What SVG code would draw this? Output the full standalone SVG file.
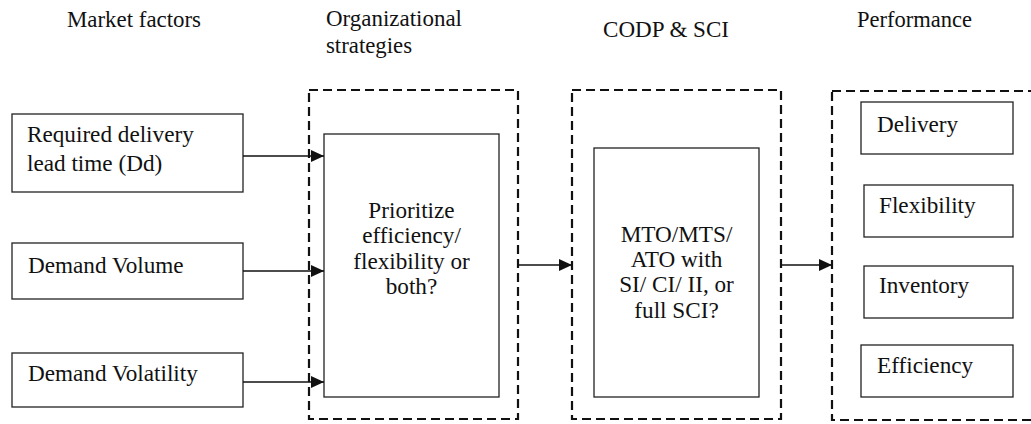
<svg xmlns="http://www.w3.org/2000/svg" width="1031" height="424" viewBox="0 0 1031 424">
<style>
text{fill:#111}
.h{font-size:23.5px}
.t{font-size:23.2px}
.c{text-anchor:middle}
.box{fill:#fff;stroke:#222;stroke-width:1.3}
.dash{fill:none;stroke:#111;stroke-width:2.2;stroke-dasharray:9 5}
.ln{fill:none;stroke:#111;stroke-width:1.3;marker-end:url(#ah)}
</style>
<defs>
<marker id="ah" markerWidth="13" markerHeight="12" refX="13" refY="6" orient="auto" markerUnits="userSpaceOnUse">
<path d="M0,0 L13,6 L0,12 Z" fill="#111"/>
</marker>
</defs>
<rect width="1031" height="424" fill="#fff"/>
<g font-family="'Liberation Serif', 'Times New Roman', Tinos, 'DejaVu Serif', serif">
<g id="headers">
<text class="h" x="67" y="27" textLength="134" lengthAdjust="spacingAndGlyphs">Market factors</text>
<text class="h" x="326" y="26" textLength="136" lengthAdjust="spacingAndGlyphs">Organizational</text>
<text class="h" x="326" y="53" textLength="86" lengthAdjust="spacingAndGlyphs">strategies</text>
<text class="h" x="603" y="37" textLength="126" lengthAdjust="spacingAndGlyphs">CODP &amp; SCI</text>
<text class="h" x="857" y="27" textLength="115" lengthAdjust="spacingAndGlyphs">Performance</text>
</g>
<g id="group-strategies"><rect class="dash" x="309" y="90" width="209" height="329"/></g>
<g id="group-codp"><rect class="dash" x="572" y="90" width="209" height="329"/></g>
<g id="group-performance"><rect class="dash" x="832" y="91" width="250" height="329"/></g>
<g id="n-lead"><rect class="box" x="12" y="114" width="231" height="78"/>
<text class="t" x="27" y="142">Required delivery</text>
<text class="t" x="27" y="171">lead time (Dd)</text></g>
<g id="n-volume"><rect class="box" x="12" y="243" width="231" height="56"/>
<text class="t" x="28" y="273">Demand Volume</text></g>
<g id="n-volatility"><rect class="box" x="12" y="353" width="231" height="54"/>
<text class="t" x="28" y="381">Demand Volatility</text></g>
<g id="n-prioritize"><rect class="box" x="324" y="134" width="175" height="263"/>
<text class="t c" x="411.5" y="218">Prioritize</text>
<text class="t c" x="411.5" y="243">efficiency/</text>
<text class="t c" x="411.5" y="269">flexibility or</text>
<text class="t c" x="411.5" y="294">both?</text></g>
<g id="n-codp"><rect class="box" x="594" y="148" width="165" height="249"/>
<text class="t c" x="676.5" y="242">MTO/MTS/</text>
<text class="t c" x="676.5" y="267">ATO with</text>
<text class="t c" x="676.5" y="292">SI/ CI/ II, or</text>
<text class="t c" x="676.5" y="318">full SCI?</text></g>
<g id="n-delivery"><rect class="box" x="861" y="102" width="152" height="52"/>
<text class="t" x="877" y="132">Delivery</text></g>
<g id="n-flexibility"><rect class="box" x="864" y="185" width="149" height="52"/>
<text class="t" x="879" y="213">Flexibility</text></g>
<g id="n-inventory"><rect class="box" x="864" y="266" width="149" height="52"/>
<text class="t" x="879" y="293">Inventory</text></g>
<g id="n-efficiency"><rect class="box" x="861" y="345" width="152" height="52"/>
<text class="t" x="877" y="373">Efficiency</text></g>
</g>
<g id="connectors">
<line class="ln" x1="243" y1="156" x2="324" y2="156"/>
<line class="ln" x1="243" y1="271" x2="324" y2="271"/>
<line class="ln" x1="243" y1="382" x2="324" y2="382"/>
<line class="ln" x1="518" y1="265" x2="572" y2="265"/>
<line class="ln" x1="781" y1="265" x2="832" y2="265"/>
</g>
</svg>
